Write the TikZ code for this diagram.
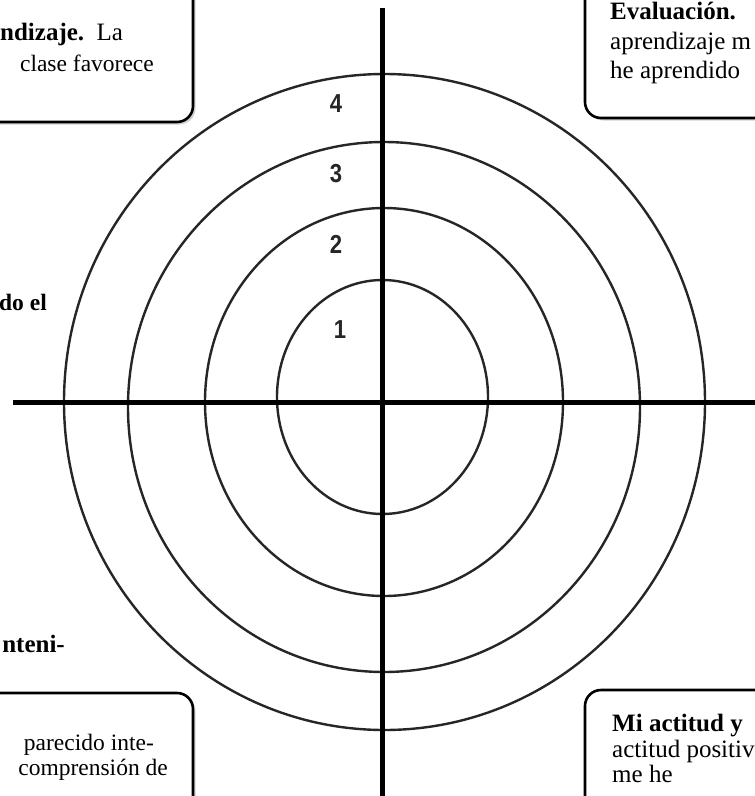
\documentclass[tikz,border=0pt]{standalone}
\usepackage{fontspec}
\setmainfont{Liberation Serif}
\newfontfamily\numfont{Liberation Sans}
\usetikzlibrary{shadows}
\tikzset{
  card/.style={draw=black, line width=2.6pt, rounded corners=16pt, fill=white,
    drop shadow={shadow xshift=2.5pt, shadow yshift=-2.5pt, opacity=0.35, fill=gray}},
  ring/.style={draw=black!85, line width=2.4pt},
  axis/.style={draw=black, line width=5pt},
  txt/.style={inner sep=0pt, font=\fontsize{23.5}{28}\selectfont},
  txtb/.style={inner sep=0pt, font=\fontsize{25}{30}\selectfont},
  num/.style={inner sep=0pt, text=black!85, font=\numfont\bfseries\fontsize{26}{26}\selectfont, xscale=0.85}
}
\begin{document}
\begin{tikzpicture}[x=1pt,y=-1pt]
\useasboundingbox (0,0) rectangle (755,796);
\fill[white] (0,0) rectangle (755,796);
% boxes
\path[card] (-40,-40) rectangle (193,122);
\path[card] (585,-40) rectangle (800,118);
\path[card] (-40,693) rectangle (193,840);
\path[card] (585,690) rectangle (800,840);
% rings
\draw[ring] (382.5,397) ellipse [x radius=105.5, y radius=117];
\draw[ring] (384,402) ellipse [x radius=179, y radius=194];
\draw[ring] (384,407) ellipse [x radius=256, y radius=265];
\draw[ring] (384.5,402) ellipse [x radius=320.5, y radius=328];
% axes
\coordinate (vt) at (382,8);
\coordinate (vb) at (382,800);
\coordinate (hl) at (13,402);
\coordinate (hr) at (760,402);
\draw[axis] (vt) -- (vb);
\draw[axis] (hl) -- (hr);
% numbers
\node[num] (n4) at (336,104) {4};
\node[num] (n3) at (336,174) {3};
\node[num] (n2) at (336,244) {2};
\node[num] (n1) at (340,330) {1};
% texts
\node[txtb, anchor=base west] (t1) at (0,40) {\textbf{ndizaje.}\ \ La};
\node[txt, anchor=base east] (t2) at (154,71) {clase favorece};
\node[txtb, anchor=base west] (t3) at (610,19) {\textbf{Evaluación.}};
\node[txtb, anchor=base west] (t4) at (610,49) {aprendizaje m};
\node[txtb, anchor=base west] (t5) at (610,78) {he aprendido};
\node[txt, anchor=base east] (t6) at (47,310) {\textbf{do el}};
\node[txtb, anchor=base east] (t7) at (65,652) {\textbf{nteni-}};
\node[txt, anchor=base east] (t8) at (154,750) {parecido inte-};
\node[txt, anchor=base east] (t9) at (168,775) {comprensión de};
\node[txtb, anchor=base west] (t10) at (612,731) {\textbf{Mi actitud y}};
\node[txtb, anchor=base west] (t11) at (612,757) {actitud positiv};
\node[txtb, anchor=base west] (t12) at (612,782) {me he};
\end{tikzpicture}
\end{document}
